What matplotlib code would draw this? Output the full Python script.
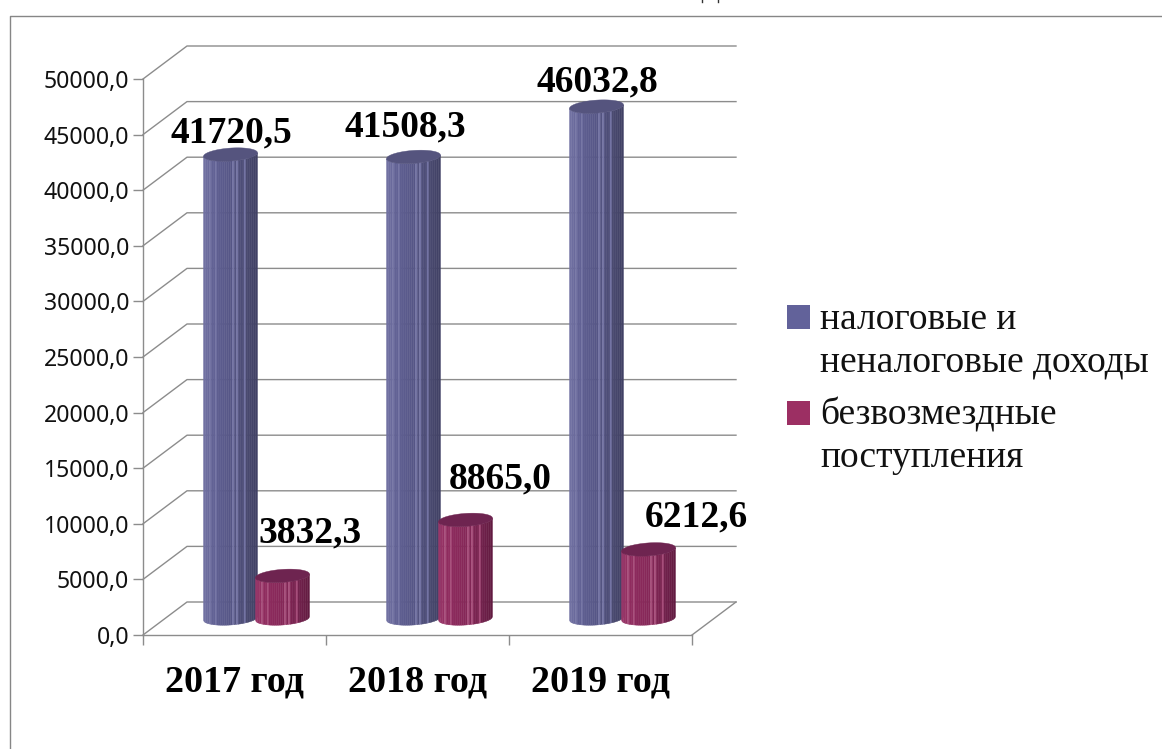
import numpy as np
import matplotlib
matplotlib.use("Agg")
import matplotlib.pyplot as plt
from matplotlib.patches import Rectangle

years = ["2017 год", "2018 год", "2019 год"]
tax_income = [41720.5, 41508.3, 46032.8]
grants = [3832.3, 8865.0, 6212.6]
series_names = ["налоговые и\nненалоговые доходы", "безвозмездные\nпоступления"]
y_ticks = [0, 5000, 10000, 15000, 20000, 25000, 30000, 35000, 40000, 45000, 50000]

W, H = 1162, 749
fig = plt.figure(figsize=(W / 100, H / 100), dpi=100, facecolor="white")
L, R, T, B = 143, 692, 79, 635
ax = fig.add_axes([L / W, 1 - B / H, (R - L) / W, (B - T) / H])
ax.set_xlim(0, 3)
ax.set_ylim(0, 50000)
ax.patch.set_alpha(0)

px = 3 / (R - L)
py = 50000 / (B - T)
GRID = "#8c8c8c"
DX, DY = 44 * px, 33 * py

# walls and floor
for v in y_ticks:
    ax.plot([0, DX, 3 + DX], [v, v + DY, v + DY], color=GRID, lw=1.0, zorder=1, clip_on=False)
ax.plot([3, 3 + DX], [0, DY], color=GRID, lw=1.0, zorder=1, clip_on=False)

for s in ["top", "right"]:
    ax.spines[s].set_visible(False)
for s in ["left", "bottom"]:
    ax.spines[s].set_color(GRID)
    ax.spines[s].set_linewidth(1.0)
ax.set_yticks(y_ticks)
ax.set_yticklabels([f"{v:.1f}".replace(".", ",") for v in y_ticks],
                   fontname="Noto Sans", fontsize=16.6, color="#111111")
ax.set_xticks([0, 1, 2, 3])
ax.set_xticklabels([])
ax.set_xticks([0.5, 1.5, 2.5], minor=True)
ax.set_xticklabels(years, minor=True, fontname="Liberation Serif", fontweight="bold",
                   fontsize=27.4, color="black")
ax.tick_params(axis="y", length=7, width=1.0, color=GRID, pad=3)
ax.tick_params(axis="x", which="major", length=7, width=1.0, color=GRID)
ax.tick_params(axis="x", which="minor", length=0, pad=21)


def cylinder(xc, value, stops, top_col, stripe_col):
    hw, hh, tilt = 27 * px, 6.5 * py, 1.8 * py
    base = DY / 2
    top = value + DY / 2
    ts = np.linspace(-1, 1, 29)
    pos = [0, 0.18, 0.55, 0.8, 1]
    for i in range(len(ts) - 1):
        t = np.linspace(ts[i], ts[i + 1], 4)
        arc = hh * np.sqrt(np.clip(1 - t ** 2, 0, 1)) - tilt * t
        xs = xc + hw * t
        mid = (ts[i] + ts[i + 1]) / 4 + 0.5
        col = [np.interp(mid, pos, [c[k] for c in stops]) for k in range(3)]
        if i in (3, 6, 15, 17, 21):
            col = stripe_col
        ax.fill(np.r_[xs, xs[::-1]], np.r_[top - arc, (base - arc)[::-1]],
                facecolor=col, edgecolor=col, lw=0.3, zorder=3, clip_on=False)
    t = np.linspace(0, 2 * np.pi, 120)
    ax.fill(xc + hw * np.cos(t), top + hh * np.sin(t) + tilt * np.cos(t),
            facecolor=top_col, edgecolor=top_col, lw=0.3, zorder=4, clip_on=False)


blue_stops = [(0.45, 0.45, 0.64), (0.38, 0.38, 0.58), (0.33, 0.33, 0.52), (0.29, 0.29, 0.44), (0.25, 0.25, 0.39)]
red_stops = [(0.60, 0.21, 0.41), (0.56, 0.17, 0.37), (0.52, 0.15, 0.34), (0.45, 0.13, 0.30), (0.38, 0.10, 0.25)]
gap = 26 * px
for i in range(3):
    xc = i + 0.5 + DX / 2
    cylinder(xc - gap, tax_income[i], blue_stops, "#55547e", (0.45, 0.45, 0.64))
    cylinder(xc + gap, grants[i], red_stops, "#6e2450", (0.65, 0.30, 0.48))

# data labels
lab_kw = dict(textcoords="offset pixels", ha="center", va="center", fontname="Liberation Serif",
              fontweight="bold", fontsize=27, color="black", zorder=6, annotation_clip=False)
blue_off = [(1, 22), (-8, 30), (1, 25)]
red_off = [(28, 43), (35, 41), (48, 32)]
for i in range(3):
    xc = i + 0.5 + DX / 2
    ax.annotate(f"{tax_income[i]:.1f}".replace(".", ","), xy=(xc - gap, tax_income[i] + DY / 2),
                xytext=blue_off[i], **lab_kw)
    ax.annotate(f"{grants[i]:.1f}".replace(".", ","), xy=(xc + gap, grants[i] + DY / 2),
                xytext=red_off[i], **lab_kw)

# legend
leg = [("#62629a", 305, 341, series_names[0]), ("#9c2f63", 401, 436, series_names[1])]
for col, y, cy, label in leg:
    fig.add_artist(Rectangle((787 / W, 1 - (y + 24) / H), 23 / W, 24 / H, facecolor=col,
                             edgecolor="none", transform=fig.transFigure))
    fig.text(820 / W, 1 - cy / H, label, fontname="Liberation Serif", fontsize=27,
             color="#111111", ha="left", va="center", linespacing=1.3,
             transform=fig.transFigure)

# outer frame
fig.add_artist(plt.Line2D([9.5 / W, 9.5 / W, 1], [0, 1 - 15.5 / H, 1 - 15.5 / H], color="#868686",
                          lw=1.0, transform=fig.transFigure))

# two small dark marks at the top edge of the picture
for mx in (702, 718):
    fig.add_artist(plt.Line2D([mx / W, mx / W], [1, 1 - 2 / H], color="#333333", lw=1.0,
                              transform=fig.transFigure))

fig.savefig("out.png", dpi=100)
